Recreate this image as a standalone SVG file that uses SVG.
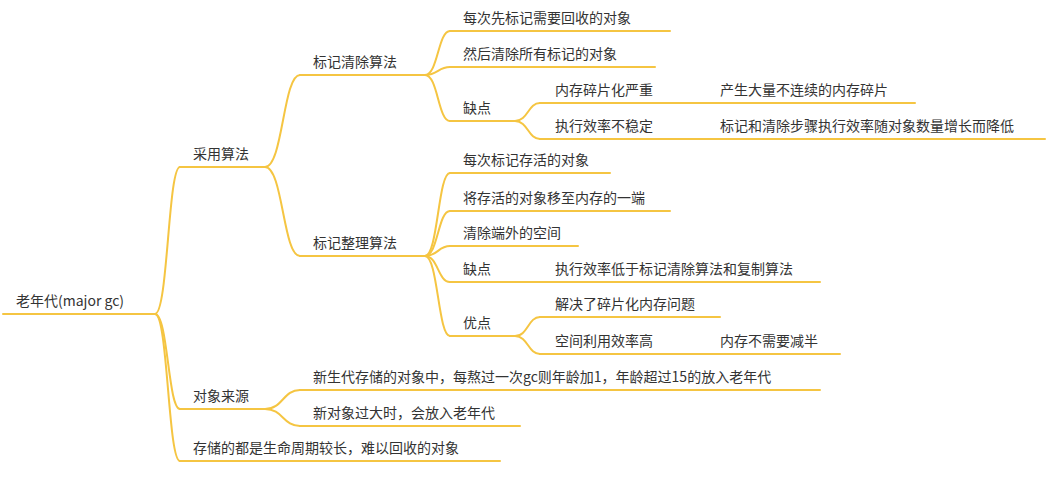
<svg xmlns="http://www.w3.org/2000/svg" width="1057" height="478" viewBox="0 0 1057 478">
<style>
text{font-family:"Noto Sans CJK SC","Noto Sans",sans-serif;font-size:14px;fill:#333}
path,line{stroke:#F5C542;stroke-width:2;fill:none;stroke-linecap:round}
</style>
<rect width="1057" height="478" fill="#fff"/>
<g id="connectors">
<path d="M155 314 C168 314 168 167 180 167"/>
<path d="M155 314 C168 314 168 409 180 409"/>
<path d="M155 314 C168 314 168 461 180 461"/>
<path d="M265 167 C283 167 283 75 300 75"/>
<path d="M265 167 C283 167 283 256 300 256"/>
<path d="M265 409 C283 409 283 390 300 390"/>
<path d="M265 409 C283 409 283 426 300 426"/>
<path d="M425 75 C438 75 438 31 450 31"/>
<path d="M425 75 C438 75 438 67 450 67"/>
<path d="M425 75 C438 75 438 121 450 121"/>
<path d="M515 121 C528 121 528 103 540 103"/>
<path d="M515 121 C528 121 528 139 540 139"/>
<path d="M425 256 C438 256 438 173 450 173"/>
<path d="M425 256 C438 256 438 211 450 211"/>
<path d="M425 256 C438 256 438 246 450 246"/>
<path d="M425 256 C438 256 438 282 450 282"/>
<path d="M425 256 C438 256 438 336 450 336"/>
<path d="M515 282 L540 282"/>
<path d="M515 336 C528 336 528 317 540 317"/>
<path d="M515 336 C528 336 528 354 540 354"/>
</g>
<g id="n-root"><line x1="3" y1="314" x2="155" y2="314"/><text x="16" y="306">老年代(major gc)</text></g>
<g id="n-caiyong"><line x1="180" y1="167" x2="265" y2="167"/><text x="193" y="159">采用算法</text></g>
<g id="n-laiyuan"><line x1="180" y1="409" x2="265" y2="409"/><text x="193" y="401">对象来源</text></g>
<g id="n-cunchu"><line x1="180" y1="461" x2="500" y2="461"/><text x="193" y="453">存储的都是生命周期较长，难以回收的对象</text></g>
<g id="n-bjqc"><line x1="300" y1="75" x2="425" y2="75"/><text x="313" y="67">标记清除算法</text></g>
<g id="n-bjzl"><line x1="300" y1="256" x2="425" y2="256"/><text x="313" y="248">标记整理算法</text></g>
<g id="n-xsd"><line x1="300" y1="390" x2="820" y2="390"/><text x="313" y="382">新生代存储的对象中，每熬过一次gc则年龄加1，年龄超过15的放入老年代</text></g>
<g id="n-xdx"><line x1="300" y1="426" x2="520" y2="426"/><text x="313" y="418">新对象过大时，会放入老年代</text></g>
<g id="n-a1"><line x1="450" y1="31" x2="670" y2="31"/><text x="463" y="23">每次先标记需要回收的对象</text></g>
<g id="n-a2"><line x1="450" y1="67" x2="655" y2="67"/><text x="463" y="59">然后清除所有标记的对象</text></g>
<g id="n-a3"><line x1="450" y1="121" x2="515" y2="121"/><text x="463" y="113">缺点</text></g>
<g id="n-a31"><line x1="540" y1="103" x2="700" y2="103"/><text x="555" y="95">内存碎片化严重</text></g>
<g id="n-a311"><line x1="700" y1="103" x2="915" y2="103"/><text x="720" y="95">产生大量不连续的内存碎片</text></g>
<g id="n-a32"><line x1="540" y1="139" x2="700" y2="139"/><text x="555" y="131">执行效率不稳定</text></g>
<g id="n-a321"><line x1="700" y1="139" x2="1045" y2="139"/><text x="720" y="131">标记和清除步骤执行效率随对象数量增长而降低</text></g>
<g id="n-b1"><line x1="450" y1="173" x2="610" y2="173"/><text x="463" y="165">每次标记存活的对象</text></g>
<g id="n-b2"><line x1="450" y1="211" x2="670" y2="211"/><text x="463" y="203">将存活的对象移至内存的一端</text></g>
<g id="n-b3"><line x1="450" y1="246" x2="578" y2="246"/><text x="463" y="238">清除端外的空间</text></g>
<g id="n-b4"><line x1="450" y1="282" x2="515" y2="282"/><text x="463" y="274">缺点</text></g>
<g id="n-b41"><line x1="540" y1="282" x2="820" y2="282"/><text x="555" y="274">执行效率低于标记清除算法和复制算法</text></g>
<g id="n-b5"><line x1="450" y1="336" x2="515" y2="336"/><text x="463" y="328">优点</text></g>
<g id="n-b51"><line x1="540" y1="317" x2="720" y2="317"/><text x="555" y="309">解决了碎片化内存问题</text></g>
<g id="n-b52"><line x1="540" y1="354" x2="700" y2="354"/><text x="555" y="346">空间利用效率高</text></g>
<g id="n-b521"><line x1="700" y1="354" x2="840" y2="354"/><text x="720" y="346">内存不需要减半</text></g>
</svg>
